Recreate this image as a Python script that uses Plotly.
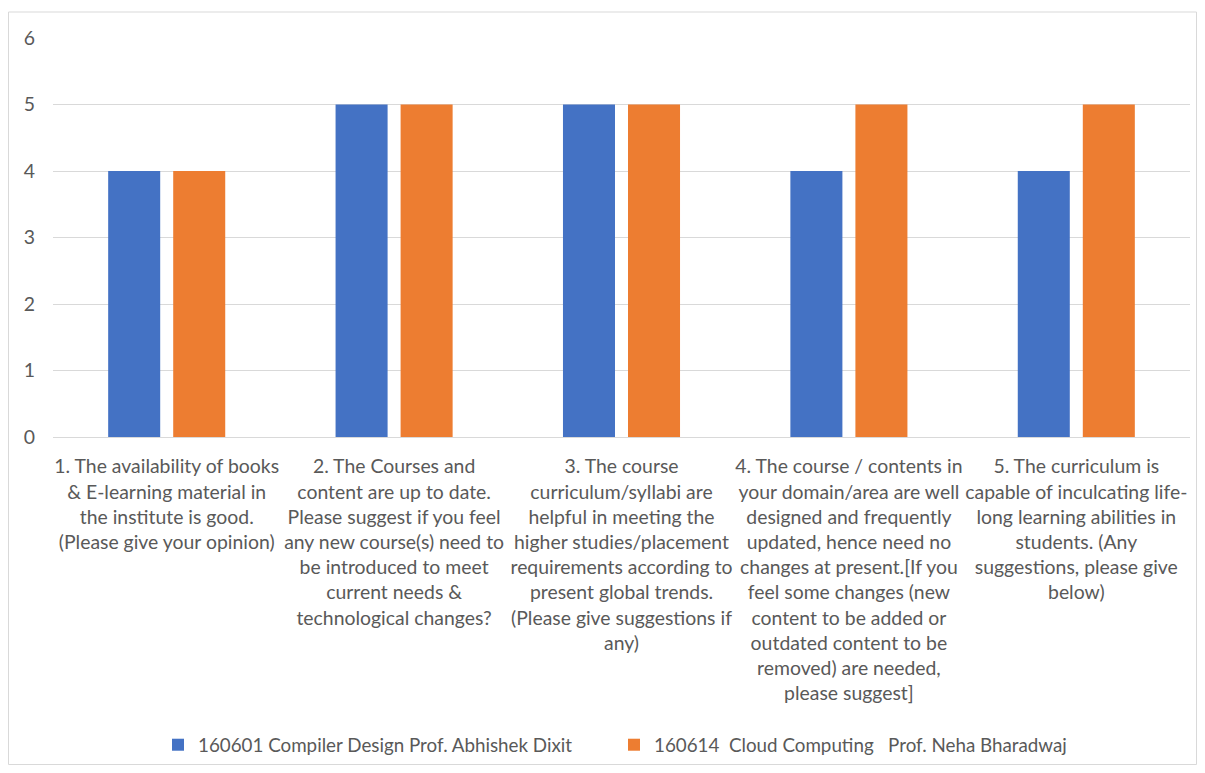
import plotly.graph_objects as go

categories = [
    "1. The availability of books<br>& E-learning material in<br>the institute is good.<br>(Please give your opinion)",
    "2. The Courses and<br>content are up to date.<br>Please suggest if you feel<br>any new course(s) need to<br>be introduced to meet<br>current needs &<br>technological changes?",
    "3. The course<br>curriculum/syllabi are<br>helpful in meeting the<br>higher studies/placement<br>requirements according to<br>present global trends.<br>(Please give suggestions if<br>any)",
    "4. The course / contents in<br>your domain/area are well<br>designed and frequently<br>updated, hence need no<br>changes at present.[If you<br>feel some changes (new<br>content to be added or<br>outdated content to be<br>removed) are needed,<br>please suggest]",
    "5. The curriculum is<br>capable of inculcating life-<br>long learning abilities in<br>students. (Any<br>suggestions, please give<br>below)",
]
series1_name = "160601 Compiler Design Prof. Abhishek Dixit"
series1_values = [4, 5, 5, 4, 4]
series2_name = "160614  Cloud Computing   Prof. Neha Bharadwaj"
series2_values = [4, 5, 5, 5, 5]
y_ticks = [0, 1, 2, 3, 4, 5, 6]

FONT = "Lato, Carlito, sans-serif"
GRAY = "#595959"
FS = 19.4

fig = go.Figure()
fig.add_trace(go.Bar(x=categories, y=series1_values, name=series1_name,
                     marker=dict(color="#4472C4", line=dict(width=0))))
fig.add_trace(go.Bar(x=categories, y=series2_values, name=series2_name,
                     marker=dict(color="#ED7D31", line=dict(width=0))))

# page has an 8px body margin; figure sized to fit the window
W, H = 1189, 757
L, R, T, B = 45, 7, 30, 328
pw, ph = W - L - R, H - T - B

def px_x(p):
    return (p - L) / pw

def px_y(p):
    return (H - B - p) / ph

fig.update_layout(
    width=W, height=H,
    margin=dict(l=L, r=R, t=T, b=B, autoexpand=False),
    paper_bgcolor="white", plot_bgcolor="white",
    barmode="group", bargap=0.428, bargroupgap=0.2,
    font=dict(family=FONT, size=FS, color=GRAY),
    showlegend=True,
    legend=dict(orientation="h", x=150 / W, xanchor="left", xref="container",
                y=1 - 737 / H, yanchor="middle", yref="container",
                font=dict(family=FONT, size=18.8, color=GRAY), itemwidth=30,
                entrywidth=411, entrywidthmode="pixels",
                traceorder="normal"),
    xaxis=dict(showgrid=False, showline=True, linecolor="#d9d9d9", linewidth=1,
               ticks="", tickangle=0, ticklabelstandoff=12, automargin=False,
               tickfont=dict(family=FONT, size=FS, color=GRAY)),
    yaxis=dict(range=[0, 6], tickvals=y_ticks, showgrid=True, gridcolor="#d9d9d9",
               gridwidth=1, zeroline=False, showline=False, ticks="", automargin=False,
               ticklabelstandoff=17, tickfont=dict(family=FONT, size=FS, color=GRAY)),
    shapes=[dict(type="rect", xref="paper", yref="paper",
                 x0=px_x(0.5), x1=px_x(W - 0.5), y0=px_y(H - 0.5), y1=px_y(4),
                 line=dict(color="#d9d9d9", width=1), fillcolor="rgba(0,0,0,0)", layer="below")],
)

fig.write_html("out.html")
